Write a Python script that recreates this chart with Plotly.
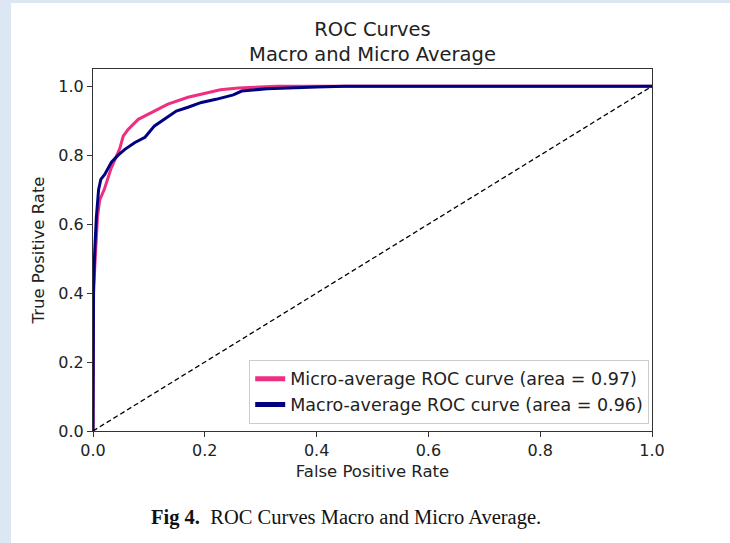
import plotly.graph_objects as go

# Data
micro_fpr = [0, 0, 0.001, 0.003, 0.006, 0.008, 0.012, 0.02, 0.032, 0.048, 0.054, 0.063,
             0.081, 0.104, 0.134, 0.17, 0.206, 0.228, 0.26, 0.33, 0.5, 1.0]
micro_tpr = [0, 0.32, 0.40, 0.47, 0.55, 0.62, 0.67, 0.70, 0.76, 0.82, 0.855, 0.875,
             0.904, 0.924, 0.948, 0.968, 0.983, 0.99, 0.995, 1.0, 1.0, 1.0]

macro_fpr = [0, 0, 0.001, 0.003, 0.006, 0.01, 0.014, 0.021, 0.024, 0.033, 0.045, 0.057,
             0.075, 0.093, 0.11, 0.128, 0.149, 0.17, 0.194, 0.22, 0.251, 0.266, 0.311,
             0.40, 0.45, 1.0]
macro_tpr = [0, 0.33, 0.42, 0.52, 0.62, 0.70, 0.73, 0.744, 0.753, 0.78, 0.80, 0.817,
             0.837, 0.852, 0.885, 0.904, 0.928, 0.939, 0.953, 0.962, 0.975, 0.986, 0.993,
             0.998, 1.0, 1.0]

diag_x = [0, 1]
diag_y = [0, 1]

micro_name = "Micro-average ROC curve (area = 0.97)"
macro_name = "Macro-average ROC curve (area = 0.96)"
tick_vals = [0.0, 0.2, 0.4, 0.6, 0.8, 1.0]
tick_text = ["0.0", "0.2", "0.4", "0.6", "0.8", "1.0"]

FONT = "DejaVu Sans"
W, H = 730, 543
L, R, T, B = 93, 78, 69, 112
pw, ph = W - L - R, H - T - B

fig = go.Figure()
fig.add_trace(go.Scatter(x=micro_fpr, y=micro_tpr, mode="lines", name=micro_name,
                         line=dict(color="#ee2f80", width=3)))
fig.add_trace(go.Scatter(x=macro_fpr, y=macro_tpr, mode="lines", name=macro_name,
                         line=dict(color="#000080", width=3)))
fig.add_trace(go.Scatter(x=diag_x, y=diag_y, mode="lines", showlegend=False,
                         line=dict(color="black", width=1.3, dash="5px,3px")))

def px_x(p):
    return (p - L) / pw

def px_y(p):
    return (H - B - p) / ph

fig.add_shape(type="rect", xref="paper", yref="paper", layer="below",
              x0=px_x(11), x1=px_x(W + 5), y0=px_y(H + 5), y1=px_y(3),
              fillcolor="white", line=dict(width=0))

fig.add_annotation(text="<b>Fig 4.</b>  ROC Curves Macro and Micro Average.",
                   xref="paper", yref="paper", x=px_x(346), y=px_y(531),
                   showarrow=False, font=dict(family="Liberation Serif", size=20.5, color="#111"))

fig.update_layout(
    width=W, height=H,
    margin=dict(l=L, r=R, t=T, b=B),
    paper_bgcolor="#dce7f3",
    plot_bgcolor="white",
    font=dict(family=FONT, size=16, color="#222"),
    title=dict(text="ROC Curves<br>Macro and Micro Average", x=0.5, xref="paper",
               xanchor="center", yref="container", y=1 - 36 / H, yanchor="top",
               font=dict(family=FONT, size=19.5, color="#222")),
    legend=dict(x=0.995, xanchor="right", y=0.02, yanchor="bottom",
                bgcolor="white", bordercolor="#cccccc", borderwidth=1,
                tracegroupgap=0, itemsizing="constant",
                font=dict(family=FONT, size=17.5, color="#222")),
    showlegend=True,
)
fig.update_xaxes(range=[0, 1.0], tickvals=tick_vals, ticktext=tick_text,
                 showgrid=False, zeroline=False, showline=True, mirror=True,
                 linecolor="#333", linewidth=1, ticks="outside", ticklen=5,
                 tickcolor="#333", tickfont=dict(size=16),
                 title=dict(text="False Positive Rate", standoff=6, font=dict(size=16.5)))
fig.update_yaxes(range=[0, 1.05], tickvals=tick_vals, ticktext=tick_text,
                 showgrid=False, zeroline=False, showline=True, mirror=True,
                 linecolor="#333", linewidth=1, ticks="outside", ticklen=5,
                 tickcolor="#333", tickfont=dict(size=16),
                 title=dict(text="True Positive Rate", standoff=9, font=dict(size=16.5)))

fig.write_html("out.html", config={"displayModeBar": False},
               post_script="document.body.style.margin='0px';")
